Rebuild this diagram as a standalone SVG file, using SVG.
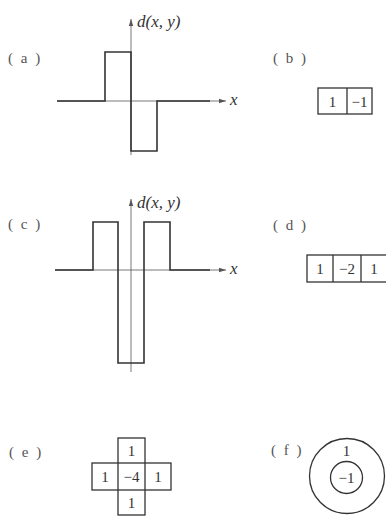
<svg xmlns="http://www.w3.org/2000/svg" width="386" height="516" viewBox="0 0 386 516">
<defs>
<marker id="ah" markerWidth="8" markerHeight="6" refX="7" refY="3" orient="auto" markerUnits="userSpaceOnUse">
<path d="M0,0.8 L7,3 L0,5.2 Z" fill="#555"/>
</marker>
</defs>
<style>
.t{font-family:"Liberation Serif",serif;font-size:15px;fill:#333}
.i{font-style:italic;font-size:17px}
.lab{font-family:"Liberation Serif",serif;font-size:15px;fill:#555;letter-spacing:2px}
.w{fill:none;stroke:#333;stroke-width:1.6}
.ax{fill:none;stroke:#555;stroke-width:0.8}
.bx{fill:none;stroke:#333;stroke-width:1.3}
</style>
<rect width="386" height="516" fill="#fff"/>

<g id="panel-a">
<text class="lab" x="8" y="63">( a )</text>
<line class="ax" x1="131" y1="155" x2="131" y2="19" marker-end="url(#ah)"/>
<line class="ax" x1="57" y1="101" x2="226" y2="101" marker-end="url(#ah)"/>
<text class="t i" x="137" y="27">d(x, y)</text>
<text class="t i" x="230" y="105">x</text>
<path class="w" d="M57,101 H105 V52 H131 V151 H157 V101 H210"/>
</g>

<g id="panel-b">
<text class="lab" x="273" y="63">( b )</text>
<rect class="bx" x="318" y="88" width="54" height="26"/>
<line class="bx" x1="347" y1="88" x2="347" y2="114"/>
<text class="t" x="332.5" y="106.5" text-anchor="middle">1</text>
<text class="t" x="359.5" y="106.5" text-anchor="middle">−1</text>
</g>

<g id="panel-c">
<text class="lab" x="8" y="229">( c )</text>
<line class="ax" x1="131" y1="372" x2="131" y2="199" marker-end="url(#ah)"/>
<line class="ax" x1="55" y1="270" x2="226" y2="270" marker-end="url(#ah)"/>
<text class="t i" x="137" y="208">d(x, y)</text>
<text class="t i" x="230" y="274">x</text>
<path class="w" d="M55,270 H93 V222 H118 V363 H144 V222 H170 V270 H210"/>
</g>

<g id="panel-d">
<text class="lab" x="273" y="230">( d )</text>
<rect class="bx" x="307" y="255" width="82" height="27"/>
<line class="bx" x1="333" y1="255" x2="333" y2="282"/>
<line class="bx" x1="361" y1="255" x2="361" y2="282"/>
<text class="t" x="320" y="274" text-anchor="middle">1</text>
<text class="t" x="347" y="274" text-anchor="middle">−2</text>
<text class="t" x="374" y="274" text-anchor="middle">1</text>
</g>

<g id="panel-e">
<text class="lab" x="9" y="457">( e )</text>
<rect class="bx" x="118" y="438" width="27" height="77"/>
<rect class="bx" x="92" y="463" width="79" height="27"/>
<text class="t" x="131.5" y="456" text-anchor="middle">1</text>
<text class="t" x="105" y="482" text-anchor="middle">1</text>
<text class="t" x="131.5" y="482" text-anchor="middle">−4</text>
<text class="t" x="158" y="482" text-anchor="middle">1</text>
<text class="t" x="131.5" y="508" text-anchor="middle">1</text>
</g>

<g id="panel-f">
<text class="lab" x="271" y="455">( f )</text>
<circle class="bx" cx="347" cy="476" r="37.5"/>
<circle class="bx" cx="346.5" cy="477.5" r="16"/>
<text class="t" x="346.5" y="456" text-anchor="middle">1</text>
<text class="t" x="346.5" y="483" text-anchor="middle">−1</text>
</g>
</svg>
